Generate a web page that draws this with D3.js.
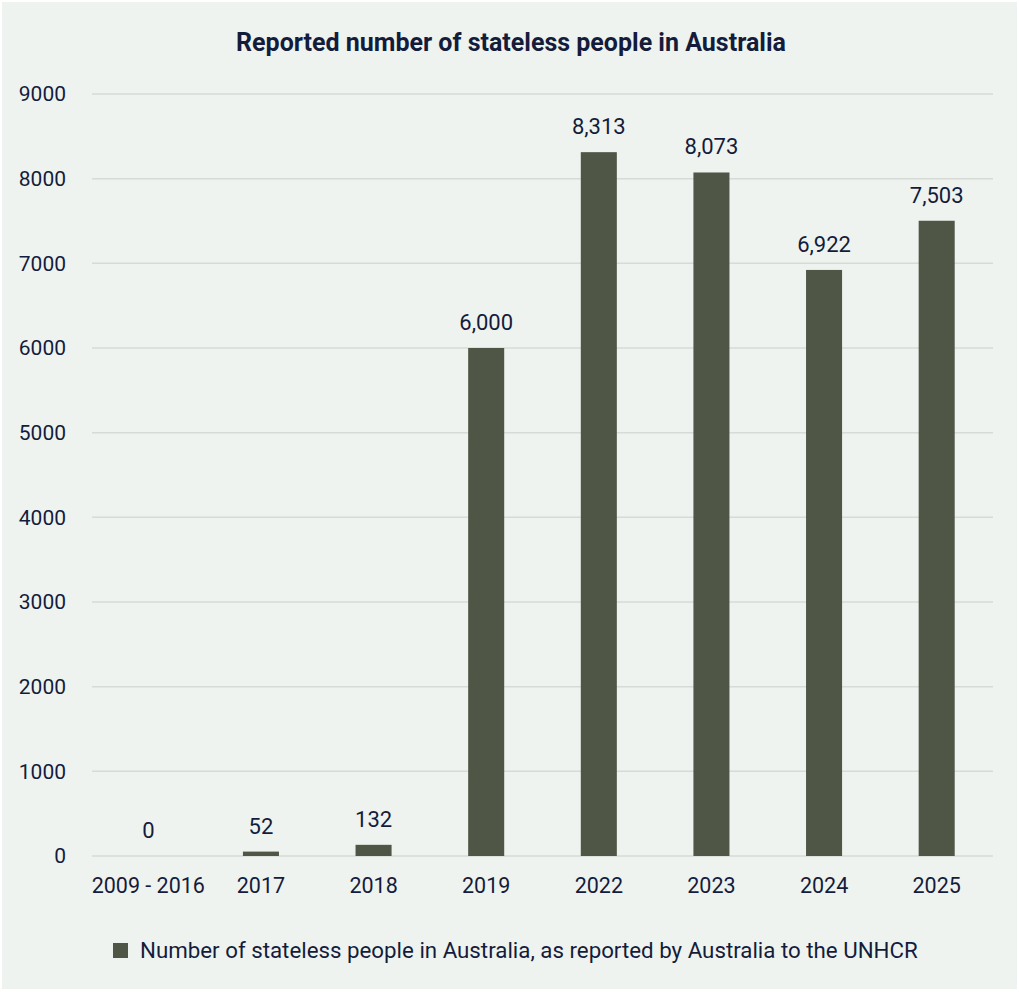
<!DOCTYPE html>
<html>
<head>
<meta charset="utf-8">
<script src="https://cdn.jsdelivr.net/npm/d3@7"></script>
<style>
  html, body { margin: 0; padding: 0; background: #ffffff; }
  svg { display: block; }
  text { font-family: "Source Sans Pro", Roboto, "Noto Sans", sans-serif; }
</style>
</head>
<body>
<svg id="chart" width="1019" height="992"></svg>
<script>
// Reported stateless people in Australia
const categories = ["2009 - 2016", "2017", "2018", "2019", "2022", "2023", "2024", "2025"];
const values = [0, 52, 132, 6000, 8313, 8073, 6922, 7503];
const yTicks = [0, 1000, 2000, 3000, 4000, 5000, 6000, 7000, 8000, 9000];
const title = "Reported number of stateless people in Australia";
const seriesName = "Number of stateless people in Australia, as reported by Australia to the UNHCR";

const W = 1019, H = 992;
const margin = { top: 94, right: 26, bottom: 136, left: 92 };
const svg = d3.select("#chart");

const textColor = "#141c3c";
const barColor = "#4f5646";

svg.append("rect")
  .attr("x", 2).attr("y", 2)
  .attr("width", W - 4).attr("height", H - 5)
  .attr("fill", "#eff3ef");

const x = d3.scaleBand()
  .domain(categories)
  .range([margin.left, W - margin.right])
  .paddingInner(0.68)
  .paddingOuter(0.34);

const y = d3.scaleLinear()
  .domain([0, 9000])
  .range([H - margin.bottom, margin.top]);

// horizontal gridlines
svg.append("g")
  .selectAll("line")
  .data(yTicks)
  .join("line")
  .attr("x1", margin.left)
  .attr("x2", W - margin.right)
  .attr("y1", d => y(d))
  .attr("y2", d => y(d))
  .attr("stroke", "#d7dbd6")
  .attr("stroke-width", 1.5);

// y axis labels
const yAxis = d3.axisLeft(y).tickValues(yTicks).tickFormat(d3.format("d")).tickSize(0).tickPadding(26);
const gy = svg.append("g").attr("transform", `translate(${margin.left},0)`).call(yAxis);
gy.select(".domain").remove();
gy.selectAll("text")
  .attr("fill", textColor)
  .attr("font-size", 21);

// x axis labels
const xAxis = d3.axisBottom(x).tickSize(0).tickPadding(22);
const gx = svg.append("g").attr("transform", `translate(0,${y(0)})`).call(xAxis);
gx.select(".domain").remove();
gx.selectAll("text")
  .attr("fill", textColor)
  .attr("font-size", 21.5);

// bars
svg.append("g")
  .selectAll("rect")
  .data(values)
  .join("rect")
  .attr("x", (d, i) => x(categories[i]))
  .attr("width", x.bandwidth())
  .attr("y", d => y(d))
  .attr("height", d => y(0) - y(d))
  .attr("fill", barColor);

// value labels
svg.append("g")
  .selectAll("text")
  .data(values)
  .join("text")
  .attr("x", (d, i) => x(categories[i]) + x.bandwidth() / 2)
  .attr("y", d => y(d) - 18)
  .attr("text-anchor", "middle")
  .attr("fill", textColor)
  .attr("font-size", 22)
  .text(d => d3.format(",")(d));

// title
svg.append("text")
  .attr("x", 511)
  .attr("y", 51)
  .attr("text-anchor", "middle")
  .attr("fill", textColor)
  .attr("font-size", 25)
  .attr("font-weight", "bold")
  .text(title);

// legend
const lg = svg.append("g").attr("transform", "translate(113,943)");
lg.append("rect")
  .attr("width", 15).attr("height", 15)
  .attr("fill", barColor);
lg.append("text")
  .attr("x", 27)
  .attr("y", 15)
  .attr("fill", textColor)
  .attr("font-size", 22.3)
  .text(seriesName);
</script>
</body>
</html>
